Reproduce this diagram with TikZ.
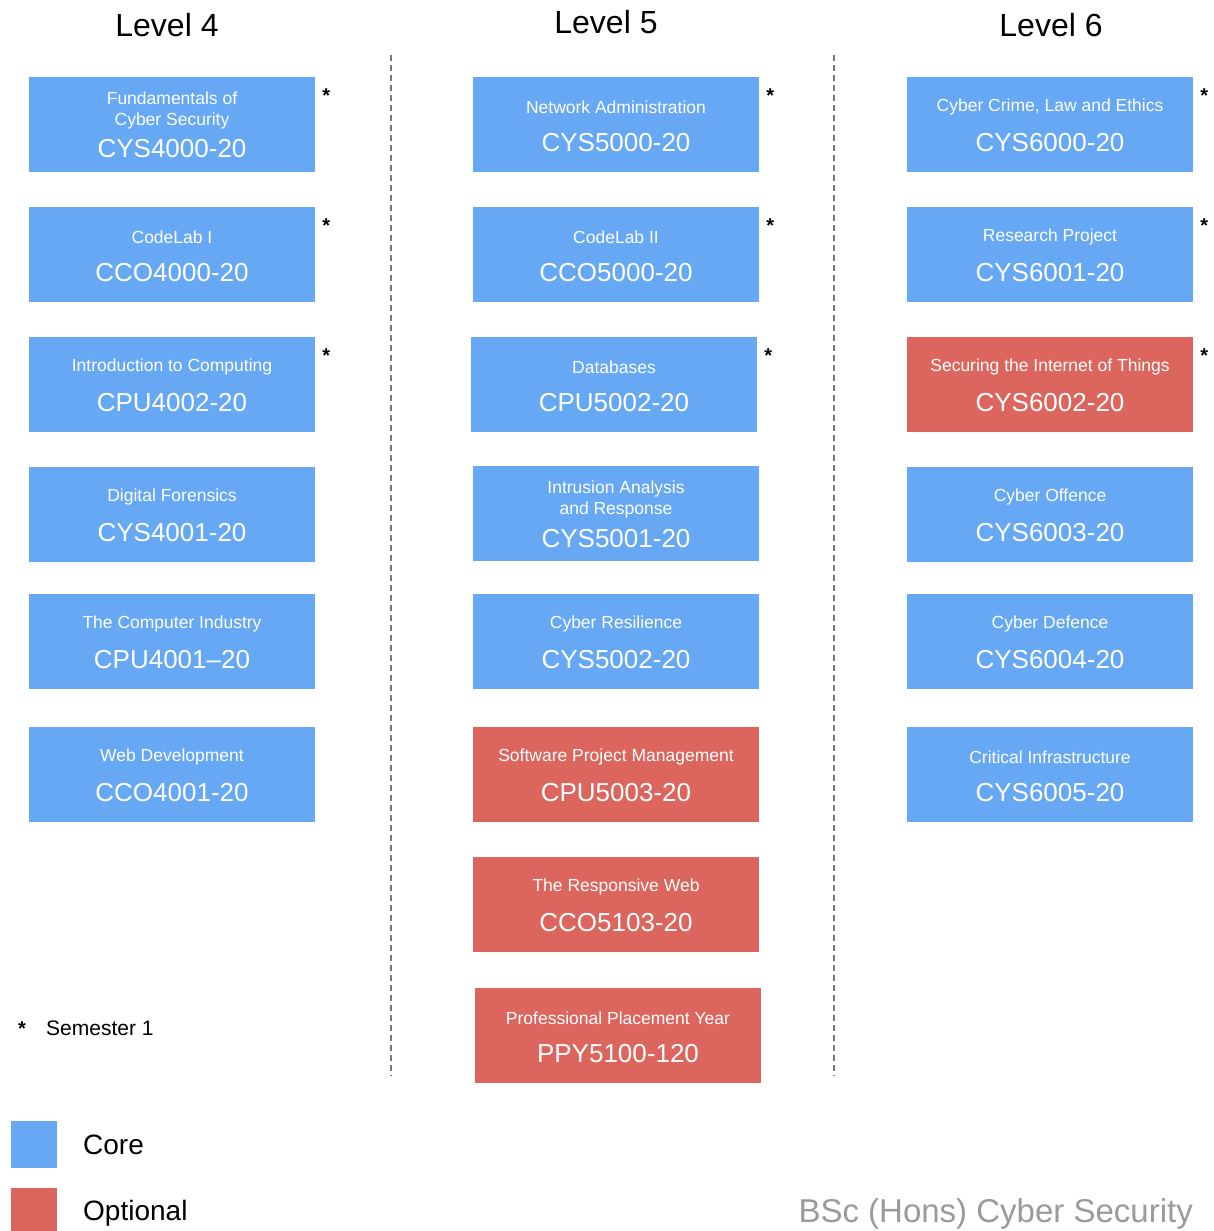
\documentclass[tikz,border=0pt]{standalone}
\usepackage{fontspec}
\setmainfont{Liberation Sans}
\usetikzlibrary{calc}
\definecolor{coreblue}{HTML}{66A8F4}
\definecolor{optred}{HTML}{DC665D}
\definecolor{dashgrey}{HTML}{777777}
\definecolor{titlegrey}{HTML}{9A9A9A}

\tikzset{
  box/.style={minimum width=286pt, minimum height=95pt, inner sep=0pt},
  core/.style={box, fill=coreblue},
  optional/.style={box, fill=optred},
  modtitle/.style={text=white, align=center, inner sep=0pt, font=\fontsize{17.5}{21}\selectfont},
  modcode/.style={text=white, inner sep=0pt, font=\fontsize{26}{30}\selectfont},
  levelhead/.style={inner sep=0pt, font=\fontsize{32}{36}\selectfont},
  semstar/.style={inner sep=0pt, font=\fontsize{20}{20}\selectfont\bfseries},
  divider/.style={dashgrey, line width=1.5pt, dash pattern=on 6pt off 4pt}
}

% \module[code offset][title offset]{name}{style}{x,y}{title}{code}
\NewDocumentCommand{\module}{O{66} O{30.5} m m m m m}{%
  \node[#4] (#3) at (#5) {};
  \node[modtitle] (#3-t) at ($(#3.north)+(0,#2)$) {#6};
  \node[modcode] (#3-c) at ($(#3.north)+(0,#1)$) {#7};
}
\newcommand{\semone}[1]{\node[semstar] (#1-s) at ($(#1.north east)+(11,19)$) {*};}

\begin{document}
\begin{tikzpicture}[x=1pt, y=-1pt]
\useasboundingbox (0,0) rectangle (1213,1231);

% level headings
\node[levelhead] (l4) at (167,25) {Level 4};
\node[levelhead] (l5) at (606,22) {Level 5};
\node[levelhead] (l6) at (1051,25) {Level 6};

% dividers
\coordinate (d1a) at (391,55);
\coordinate (d1b) at (391,1076);
\coordinate (d2a) at (834,55);
\coordinate (d2b) at (834,1076);
\draw[divider] (d1a) -- (d1b);
\draw[divider] (d2a) -- (d2b);

% level 4
\module[72][34]{cys4000}{core}{172,124.5}{Fundamentals of\\Cyber Security}{CYS4000-20}
\module{cco4000}{core}{172,254.5}{CodeLab I}{CCO4000-20}
\module{cpu4002}{core}{172,384.5}{Introduction to Computing}{CPU4002-20}
\module{cys4001}{core}{172,514.5}{Digital Forensics}{CYS4001-20}
\module{cpu4001}{core}{172,641.5}{The Computer Industry}{CPU4001--20}
\module{cco4001}{core}{172,774.5}{Web Development}{CCO4001-20}
\semone{cys4000}
\semone{cco4000}
\semone{cpu4002}

% level 5
\module{cys5000}{core}{616,124.5}{Network Administration}{CYS5000-20}
\module{cco5000}{core}{616,254.5}{CodeLab II}{CCO5000-20}
\module{cpu5002}{core}{614,384.5}{Databases}{CPU5002-20}
\module[73][34]{cys5001}{core}{616,513.5}{Intrusion Analysis\\and Response}{CYS5001-20}
\module{cys5002}{core}{616,641.5}{Cyber Resilience}{CYS5002-20}
\module{cpu5003}{optional}{616,774.5}{Software Project Management}{CPU5003-20}
\module{cco5103}{optional}{616,904.5}{The Responsive Web}{CCO5103-20}
\module{ppy5100}{optional}{618,1035.5}{Professional Placement Year}{PPY5100-120}
\semone{cys5000}
\semone{cco5000}
\semone{cpu5002}

% level 6
\module{cys6000}{core}{1050,124.5}{Cyber Crime, Law and Ethics}{CYS6000-20}
\module{cys6001}{core}{1050,254.5}{Research Project}{CYS6001-20}
\module{cys6002}{optional}{1050,384.5}{Securing the Internet of Things}{CYS6002-20}
\module{cys6003}{core}{1050,514.5}{Cyber Offence}{CYS6003-20}
\module{cys6004}{core}{1050,641.5}{Cyber Defence}{CYS6004-20}
\module{cys6005}{core}{1050,774.5}{Critical Infrastructure}{CYS6005-20}
\semone{cys6000}
\semone{cys6001}
\semone{cys6002}

% key
\node[semstar] (keystar) at (22,1029) {*};
\node[anchor=west, inner sep=0pt, font=\fontsize{21}{24}\selectfont] (keysem) at (46,1028) {Semester 1};
\node[core, minimum width=46pt, minimum height=47pt] (corekey) at (34,1144.5) {};
\node[optional, minimum width=46pt, minimum height=47pt] (optkey) at (34,1211.5) {};
\node[anchor=west, inner sep=0pt, font=\fontsize{28}{32}\selectfont] (corelbl) at (83,1145) {Core};
\node[anchor=west, inner sep=0pt, font=\fontsize{28}{32}\selectfont] (optlbl) at (83,1213) {Optional};
\node[anchor=east, inner sep=0pt, text=titlegrey, font=\fontsize{33}{36}\selectfont] (course) at (1193,1214) {BSc (Hons) Cyber Security};
\end{tikzpicture}
\end{document}
